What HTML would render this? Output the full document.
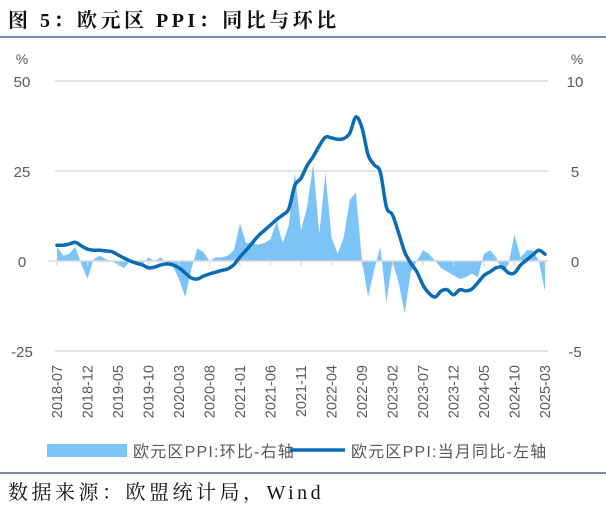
<!DOCTYPE html>
<html><head><meta charset="utf-8"><style>
body{margin:0;width:606px;height:506px;background:#fff;overflow:hidden;font-family:"Liberation Serif","Noto Serif CJK SC",serif}
#title{position:absolute;left:8px;top:4px;font-size:20px;font-weight:bold;letter-spacing:3.5px;color:#111}
#src{position:absolute;left:8px;top:476px;font-size:20px;letter-spacing:3.5px;color:#111}
svg{position:absolute;left:0;top:0}
</style></head><body>
<div id="title">图 5：欧元区 PPI：同比与环比</div>
<div id="src">数据来源：欧盟统计局，Wind</div>
<svg id="chart" width="606" height="506"></svg>
<script>
const yoy=[4.4,4.4,4.7,5.2,4.2,3.3,
3.0,3.0,2.8,2.6,1.7,0.8,0,-0.6,-1.1,-1.9,-1.7,-1.1,
-0.8,-1.1,-1.9,-3.3,-4.7,-5.0,-4.2,-3.6,-3.1,-2.6,-2.2,-1.0,
1.1,3.0,5.0,7.0,8.5,10.0,11.5,12.8,14.5,21.0,23.0,26.5,
29.0,32.0,34.4,34.2,33.8,34.0,35.5,40.0,37.0,29.5,26.7,24.7,
15.0,12.8,7.8,2.5,-0.6,-3.0,-6.7,-9.0,-10.0,-8.3,-8.0,-9.4,
-8.0,-8.3,-7.8,-6.0,-4.0,-3.0,-1.9,-1.7,-3.3,-3.3,-1.1,0.3,
1.7,3.0,1.9];
const mom=[0.8,0.3,0.4,0.8,-0.2,-1.0,
0.1,0.3,0.1,0.0,-0.2,-0.4,0.0,-0.1,-0.2,0.2,0.0,0.2,
-0.1,-0.3,-1.0,-2.0,-0.5,0.7,0.5,0.0,0.2,0.2,0.3,0.6,
2.1,1.0,1.0,0.9,1.0,1.2,2.2,1.0,2.0,4.9,1.7,3.0,
5.4,1.5,4.9,1.3,0.4,1.3,3.4,3.8,0.0,-2.0,-0.5,0.8,
-2.3,0.0,-1.2,-2.9,-0.6,0.0,0.6,0.4,0.0,-0.4,-0.6,-0.8,
-1.0,-0.9,-0.7,-0.9,0.4,0.6,0.2,-0.6,-0.2,1.5,0.2,0.6,
0.6,0.0,-1.7];
const leftTicks=[50,25,0,-25];
const rightTicks=[10,5,0,-5];
const xLabels=["2018-07","2018-12","2019-05","2019-10","2020-03","2020-08","2021-01","2021-06","2021-11","2022-04","2022-09","2023-02","2023-07","2023-12","2024-05","2024-10","2025-03"];
const svg=document.getElementById('chart');const NS='http://www.w3.org/2000/svg';
const x0=57,x1=545,n=yoy.length;
const xs=i=>x0+(x1-x0)*i/(n-1);
const yL=v=>261-v*3.6;
const yR=v=>261-v*18;
function mk(t,a){const e=document.createElementNS(NS,t);for(const k in a)e.setAttribute(k,a[k]);svg.appendChild(e);return e;}
let e;
e=mk('line',{x1:0,y1:37,x2:606,y2:37,stroke:'#4a6a8a','stroke-width':1.5});


e=mk('line',{x1:0,y1:473,x2:606,y2:473,stroke:'#2a4a6a','stroke-width':1.2});


leftTicks.forEach((v,k)=>{
 if(v!==0){e=mk('line',{x1:55,x2:548,y1:yL(v),y2:yL(v),stroke:'#d9d9d9','stroke-width':1.5});
 
 }
 e=mk('text',{x:22,y:yL(v)+6,'text-anchor':'middle','font-size':15,fill:'#595959','font-family':'Liberation Sans, sans-serif'});e.textContent=v;
 
 
 e=mk('text',{x:575,y:yR(rightTicks[k])+6,'text-anchor':'middle','font-size':15,fill:'#595959','font-family':'Liberation Sans, sans-serif'});e.textContent=rightTicks[k];
 
 
});
e=mk('text',{x:22,y:64,'text-anchor':'middle','font-size':14,fill:'#595959','font-family':'Liberation Sans, sans-serif'});e.textContent='%';


e=mk('text',{x:577,y:64,'text-anchor':'middle','font-size':14,fill:'#595959','font-family':'Liberation Sans, sans-serif'});e.textContent='%';


let d='M'+xs(0)+','+yR(0);
mom.forEach((v,i)=>{d+=' L'+xs(i).toFixed(1)+','+yR(v).toFixed(1);});
d+=' L'+xs(n-1)+','+yR(0)+' Z';
e=mk('path',{d:d,fill:'#7cc4f8'});


e=mk('line',{x1:48,x2:548,y1:261,y2:261,stroke:'#d9d9d9','stroke-width':1.5});


xLabels.forEach((s,k)=>{
 const x=xs(k*5);
 e=mk('line',{x1:x,x2:x,y1:261,y2:266,stroke:'#d9d9d9','stroke-width':1.2});
 
 
 e=mk('text',{x:0,y:0,'text-anchor':'end','font-size':14.5,fill:'#595959','font-family':'Liberation Sans, sans-serif',transform:'translate('+(x+5)+',365) rotate(-90)'});e.textContent=s;
 
 
});
const pts=yoy.map((v,i)=>[xs(i),yL(v)]);
let p='M'+pts[0][0].toFixed(1)+','+pts[0][1].toFixed(1);
for(let i=0;i<pts.length-1;i++){
 const a=pts[Math.max(0,i-1)],b=pts[i],c=pts[i+1],q=pts[Math.min(pts.length-1,i+2)];
 const c1=[b[0]+(c[0]-a[0])/6,b[1]+(c[1]-a[1])/6],c2=[c[0]-(q[0]-b[0])/6,c[1]-(q[1]-b[1])/6];
 p+=' C'+c1[0].toFixed(1)+','+c1[1].toFixed(1)+' '+c2[0].toFixed(1)+','+c2[1].toFixed(1)+' '+c[0].toFixed(1)+','+c[1].toFixed(1);
}
e=mk('path',{d:p,fill:'none',stroke:'#0b6bb3','stroke-width':3.5,'stroke-linejoin':'round','stroke-linecap':'round'});


e=mk('rect',{x:47,y:444,width:80,height:13,fill:'#7cc4f8'});


e=mk('text',{x:133,y:457,'font-size':16,'letter-spacing':1.2,fill:'#595959','font-family':'Liberation Sans, Noto Sans CJK SC, sans-serif'});e.textContent='欧元区PPI:环比-右轴';


e=mk('line',{x1:290,x2:345,y1:450,y2:450,stroke:'#0b6bb3','stroke-width':3.5});


e=mk('text',{x:351,y:457,'font-size':16,'letter-spacing':1.2,fill:'#595959','font-family':'Liberation Sans, Noto Sans CJK SC, sans-serif'});e.textContent='欧元区PPI:当月同比-左轴';


</script>
</body></html>
